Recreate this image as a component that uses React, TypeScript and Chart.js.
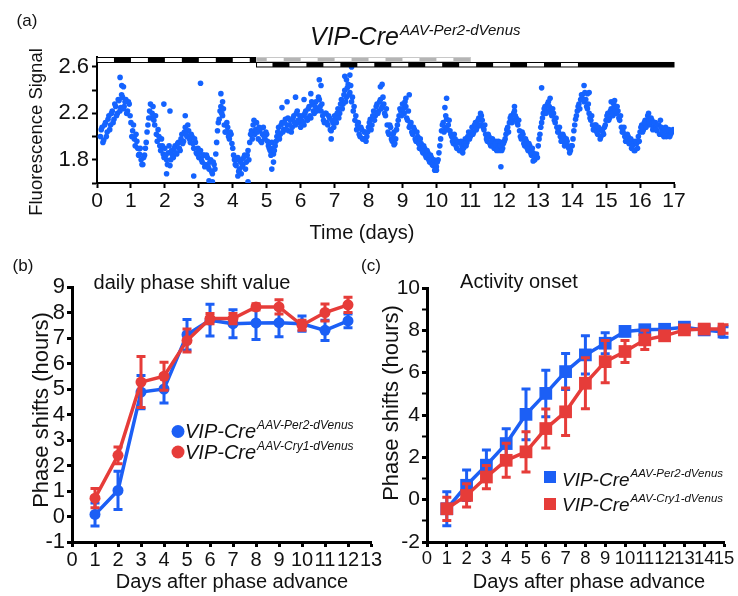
import React, { useEffect, useRef } from 'react';
import { Chart, registerables } from 'chart.js';
Chart.register(...registerables);

const FONT = 'Arial, "Liberation Sans", Helvetica, sans-serif';
const BLUE = '#1c5ff5';
const RED = '#e63c39';
const DOT_BLUE = '#1463ff';

// ---------- Panel (a) data ----------
const signalStep = 0.05; // days between samples of each reading series
const signalStartA = 0.1;
const signalValuesA = [
  // day 0 (from 0.10)
  2.00, 2.08, 1.97, 2.12, 2.04, 2.18, 2.10, 2.22, 2.15, 2.26, 2.20, 2.31, 2.25, 2.34, 2.26, 2.32, 2.22, 2.28,
  // day 1
  2.12, 2.05, 1.98, 2.02, 1.90, 1.85, 1.80, 1.76, 1.84, 1.95, 2.10, 2.22, 2.16, 2.26, 2.10, 2.02, 2.06, 1.92, 1.98, 1.85,
  // day 2
  1.90, 1.80, 1.86, 1.75, 1.88, 1.82, 1.92, 1.85, 1.95, 1.88, 2.02, 1.96, 2.08, 2.00, 2.05, 1.95, 2.00, 1.90, 1.95, 1.85,
  // day 3
  1.82, 1.88, 1.78, 1.84, 1.76, 1.82, 1.72, 1.80, 1.68, 1.76, 1.85, 2.05, 2.15, 2.26, 2.18, 2.10, 2.04, 2.08, 1.98, 2.02,
  // day 4
  1.90, 1.80, 1.75, 1.82, 1.72, 1.80, 1.76, 1.84, 1.78, 1.88, 1.95, 2.05, 2.10, 2.02, 2.12, 1.98, 2.05, 1.95, 2.08, 1.98,
  // day 5
  2.02, 1.92, 1.88, 1.95, 1.85, 1.92, 2.00, 2.08, 2.02, 2.12, 2.06, 2.15, 2.10, 2.05, 2.14, 2.08, 2.18, 2.10, 2.22, 2.12,
  // day 6
  2.08, 2.18, 2.10, 2.22, 2.14, 2.26, 2.16, 2.28, 2.20, 2.30, 2.24, 2.32, 2.22, 2.18, 2.12, 2.20, 2.10, 2.16, 2.05, 2.12,
  // day 7
  2.18, 2.12, 2.24, 2.20, 2.32, 2.28, 2.40, 2.34, 2.45, 2.38, 2.30, 2.22, 2.14, 2.06, 2.12, 2.00, 2.06, 1.98, 2.04, 2.00,
  // day 8
  2.08, 2.15, 2.10, 2.22, 2.18, 2.28, 2.22, 2.32, 2.26, 2.28, 2.18, 2.10, 2.02, 2.08, 1.96, 2.04, 1.98, 2.10, 2.18, 2.22,
  // day 9
  2.28, 2.20, 2.26, 2.14, 2.08, 2.12, 2.02, 2.06, 1.96, 2.00, 1.90, 1.94, 1.86, 1.90, 1.82, 1.86, 1.78, 1.82, 1.75, 1.78,
  // day 10
  1.74, 1.80, 1.92, 2.05, 2.12, 2.08, 2.15, 2.10, 2.05, 2.00, 1.94, 1.98, 1.90, 1.95, 1.88, 1.92, 1.90, 1.98, 1.95, 2.04,
  // day 11
  2.00, 2.08, 2.04, 2.12, 2.08, 2.16, 2.10, 2.14, 2.06, 2.02, 1.96, 2.00, 1.92, 1.98, 1.90, 1.96, 1.92, 1.88, 1.95, 1.90,
  // day 12
  1.96, 2.02, 2.08, 2.12, 2.18, 2.14, 2.22, 2.16, 2.10, 2.05, 1.98, 2.02, 1.92, 1.96, 1.88, 1.92, 1.84, 1.86, 1.80, 1.85,
  // day 13
  1.92, 2.02, 2.12, 2.20, 2.26, 2.22, 2.30, 2.24, 2.18, 2.20, 2.12, 2.08, 2.04, 2.00, 1.96, 2.00, 1.94, 1.96, 1.90, 1.88,
  // day 14
  1.92, 2.05, 2.15, 2.22, 2.28, 2.32, 2.36, 2.30, 2.32, 2.24, 2.20, 2.14, 2.10, 2.06, 2.10, 2.02, 2.06, 2.00, 2.04, 2.08,
  // day 15
  2.14, 2.20, 2.16, 2.24, 2.18, 2.26, 2.20, 2.22, 2.14, 2.08, 2.04, 2.00, 1.96, 2.00, 1.94, 1.90, 1.96, 1.88, 1.94, 2.00,
  // day 16
  2.04, 2.10, 2.06, 2.14, 2.10, 2.16, 2.10, 2.14, 2.08, 2.12, 2.05, 2.10, 2.02, 2.06, 2.00, 2.08, 2.02, 2.06, 2.02, 2.04,
];
const signalStartB = 0.125;
const signalValuesB = [
  // day 0 (from 0.125)
  2.06, 1.95, 2.10, 2.00, 2.15, 2.06, 2.20, 2.12, 2.28, 2.18, 2.32, 2.22, 2.36, 2.24, 2.30, 2.20, 2.30, 2.18,
  // day 1
  2.00, 2.10, 1.92, 1.96, 1.84, 1.90, 1.76, 1.82, 1.90, 2.04, 2.16, 2.28, 2.20, 2.14, 2.18, 1.96, 2.00, 1.88, 1.92, 1.82,
  // day 2
  1.84, 1.76, 1.92, 1.80, 1.84, 1.90, 1.86, 1.94, 1.90, 1.98, 1.94, 2.04, 2.02, 2.10, 1.98, 2.02, 1.94, 1.98, 1.86, 1.90,
  // day 3
  1.86, 1.80, 1.84, 1.74, 1.84, 1.74, 1.78, 1.70, 1.78, 1.72, 1.95, 2.12, 2.22, 2.20, 2.24, 2.04, 2.12, 2.00, 2.04, 1.94,
  // day 4
  1.84, 1.76, 1.80, 1.70, 1.78, 1.74, 1.82, 1.72, 1.84, 1.80, 2.02, 1.98, 2.14, 2.06, 2.04, 2.08, 1.96, 2.02, 2.00, 2.04,
  // day 5
  1.96, 1.90, 1.84, 1.90, 1.88, 1.96, 2.04, 1.98, 2.10, 2.04, 2.12, 2.06, 2.16, 2.10, 2.04, 2.16, 2.12, 2.20, 2.14, 2.18,
  // day 6
  2.14, 2.12, 2.20, 2.16, 2.24, 2.18, 2.30, 2.22, 2.26, 2.22, 2.34, 2.26, 2.28, 2.14, 2.20, 2.12, 2.18, 2.06, 2.14, 2.08,
  // day 7
  2.14, 2.20, 2.16, 2.28, 2.24, 2.36, 2.30, 2.42, 2.36, 2.44, 2.34, 2.26, 2.18, 2.10, 2.02, 2.08, 1.98, 2.04, 1.96, 2.04,
  // day 8
  2.12, 2.06, 2.18, 2.14, 2.26, 2.20, 2.30, 2.24, 2.34, 2.20, 2.24, 2.04, 2.10, 1.98, 2.02, 1.94, 2.06, 2.14, 2.24, 2.18,
  // day 9
  2.24, 2.30, 2.16, 2.22, 2.10, 2.04, 2.08, 1.98, 2.04, 1.94, 1.98, 1.88, 1.92, 1.84, 1.88, 1.80, 1.84, 1.76, 1.80, 1.72,
  // day 10
  1.78, 1.86, 1.98, 2.10, 2.04, 2.18, 2.06, 2.14, 2.02, 1.96, 2.02, 1.92, 1.96, 1.88, 1.96, 1.86, 1.94, 1.92, 2.00, 1.98,
  // day 11
  2.04, 2.02, 2.10, 2.06, 2.14, 2.10, 2.18, 2.08, 2.10, 1.98, 2.02, 1.94, 1.96, 1.92, 1.94, 1.88, 1.96, 1.92, 1.88, 1.94,
  // day 12
  1.98, 2.06, 2.04, 2.16, 2.12, 2.20, 2.18, 2.12, 2.14, 2.00, 2.04, 1.94, 1.98, 1.90, 1.94, 1.86, 1.90, 1.80, 1.84, 1.82,
  // day 13
  1.98, 2.08, 2.16, 2.24, 2.20, 2.28, 2.26, 2.20, 2.24, 2.14, 2.16, 2.04, 2.08, 1.96, 2.02, 1.92, 1.98, 1.92, 1.86, 1.92,
  // day 14
  1.98, 2.10, 2.18, 2.26, 2.24, 2.36, 2.32, 2.38, 2.26, 2.28, 2.16, 2.18, 2.06, 2.10, 2.04, 2.08, 1.98, 2.06, 2.02, 2.10,
  // day 15
  2.18, 2.14, 2.22, 2.20, 2.28, 2.22, 2.26, 2.16, 2.18, 2.04, 2.08, 1.96, 2.02, 1.94, 1.98, 1.92, 1.88, 1.96, 1.90, 1.96,
  // day 16
  2.08, 2.04, 2.12, 2.08, 2.18, 2.12, 2.16, 2.06, 2.12, 2.06, 2.10, 2.02, 2.08, 2.04, 2.06, 2.00, 2.06, 2.00, 2.04, 2.06,
];
const signalOutliers: [number, number][] = [
  [0.68, 2.51], [0.73, 2.44], [0.78, 2.43], [1.97, 2.28], [2.05, 1.68], [2.15, 2.22], [2.6, 2.18], [2.85, 1.66],
  [3.05, 2.46], [3.3, 1.62], [3.4, 1.61], [3.65, 2.37], [3.7, 2.3], [4.15, 1.66], [4.25, 1.68], [4.45, 1.61],
  [5.15, 1.72], [5.2, 1.78], [5.45, 2.25], [5.6, 2.3], [5.85, 2.34], [6.1, 2.32], [6.3, 2.37], [6.55, 2.49],
  [6.6, 2.44], [6.9, 1.98], [7.3, 2.52], [7.35, 2.49], [7.45, 2.53], [7.5, 2.6], [8.35, 2.43], [8.4, 2.45],
  [8.75, 1.93], [9.1, 2.33], [9.2, 2.36], [9.95, 1.71], [10.0, 1.71], [10.25, 2.25], [10.3, 2.33], [11.3, 2.2],
  [11.9, 1.74], [12.3, 2.26], [12.85, 1.79], [13.1, 2.42], [13.35, 2.33], [14.35, 2.44], [14.45, 2.37],
  [14.5, 2.38], [15.15, 2.3], [15.25, 2.31], [16.25, 2.2], [16.6, 2.14],
];
const aTickLabels = [1.8, 2.2, 2.6];
// light/dark schedule (days)
const shiftDay = 4.7;
const oldDark: [number, number][] = [[0.5, 1], [1.5, 2], [2.5, 3], [3.5, 4], [4.5, 4.7]];
const oldDarkGhost: [number, number][] = [[4.7, 5], [5.5, 6], [6.5, 7], [7.5, 8], [8.5, 9], [9.5, 10], [10.5, 11]];
const ghostEnd = 11;
const newDark: [number, number][] = [
  [5.17, 5.67], [6.17, 6.67], [7.17, 7.67], [8.17, 8.67], [9.17, 9.67], [10.17, 10.67],
  [11.17, 11.67], [12.17, 12.67], [13.17, 13.67], [14.17, 17],
];
const ldRows = [2.686, 2.643, 2.6]; // row boundaries in signal units

// ---------- Panel (b) data ----------
const daysB = [1, 2, 3, 4, 5, 6, 7, 8, 9, 10, 11, 12];
const per2B = [0.08, 1.02, 4.88, 5.0, 7.13, 7.7, 7.56, 7.59, 7.6, 7.56, 7.3, 7.67];
const per2BErr = [0.45, 0.75, 0.65, 0.55, 0.6, 0.62, 0.55, 0.65, 0.55, 0.3, 0.4, 0.27];
const cry1B = [0.72, 2.4, 5.27, 5.5, 6.9, 7.76, 7.76, 8.22, 8.22, 7.5, 8.0, 8.3];
const cry1BErr = [0.38, 0.33, 1.0, 0.55, 0.45, 0.2, 0.2, 0.12, 0.28, 0.2, 0.33, 0.3];

// ---------- Panel (c) data ----------
const daysC = [1, 2, 3, 4, 5, 6, 7, 8, 9, 10, 11, 12, 13, 14, 15];
const per2C = [-0.43, 0.68, 1.63, 2.65, 4.03, 5.02, 6.05, 6.84, 7.39, 7.95, 8.03, 8.05, 8.15, 8.02, 7.92];
const per2CErr = [0.8, 0.72, 0.72, 0.7, 1.2, 1.1, 0.85, 0.9, 0.5, 0.2, 0.15, 0.15, 0.15, 0.2, 0.25];
const cry1C = [-0.43, 0.2, 1.07, 1.86, 2.26, 3.36, 4.15, 5.5, 6.52, 7.0, 7.55, 7.74, 8.02, 8.06, 8.06];
const cry1CErr = [0.55, 0.55, 0.55, 0.8, 0.95, 0.92, 1.12, 1.2, 1.0, 0.52, 0.45, 0.2, 0.15, 0.15, 0.2];

const superPer2 = 'AAV-Per2-dVenus';
const superCry1 = 'AAV-Cry1-dVenus';

// ---------- helpers ----------
type TextItem = {
  text: string; x: number; y: number; size: number; italic?: boolean;
  align?: 'left' | 'center' | 'right'; rotate?: number; baseline?: CanvasTextBaseline;
  sup?: string; supSize?: number; supRise?: number;
};
type Marker = { shape: 'circle' | 'rect'; x: number; y: number; r: number; color: string };

function drawText(ctx: CanvasRenderingContext2D, t: TextItem) {
  ctx.save();
  ctx.fillStyle = '#111';
  ctx.translate(t.x, t.y);
  if (t.rotate) ctx.rotate(t.rotate);
  const mainFont = `${t.italic ? 'italic ' : ''}${t.size}px ${FONT}`;
  ctx.font = mainFont;
  const w = ctx.measureText(t.text).width;
  let supW = 0;
  const supFont = `italic ${t.supSize || 12}px ${FONT}`;
  if (t.sup) {
    ctx.font = supFont;
    supW = ctx.measureText(t.sup).width + 1;
  }
  const total = w + supW;
  const x0 = t.align === 'center' ? -total / 2 : t.align === 'right' ? -total : 0;
  ctx.textAlign = 'left';
  ctx.textBaseline = t.baseline || 'alphabetic';
  ctx.font = mainFont;
  ctx.fillText(t.text, x0, 0);
  if (t.sup) {
    ctx.font = supFont;
    ctx.fillText(t.sup, x0 + w + 1, -(t.supRise || 9));
  }
  ctx.restore();
}

function textPlugin(id: string, items: TextItem[], markers: Marker[] = []) {
  return {
    id,
    afterDraw(chart: any) {
      const ctx = chart.ctx as CanvasRenderingContext2D;
      markers.forEach((m) => {
        ctx.save();
        ctx.fillStyle = m.color;
        ctx.beginPath();
        if (m.shape === 'circle') ctx.arc(m.x, m.y, m.r, 0, Math.PI * 2);
        else ctx.rect(m.x - m.r, m.y - m.r, m.r * 2, m.r * 2);
        ctx.fill();
        ctx.restore();
      });
      items.forEach((t) => drawText(ctx, t));
    },
  };
}

const errorBarPlugin = {
  id: 'errorBars',
  beforeDatasetDraw(chart: any, args: any) {
    const ds: any = chart.data.datasets[args.index];
    if (!ds.errors) return;
    const meta = chart.getDatasetMeta(args.index);
    const ys = chart.scales.y;
    const ctx = chart.ctx as CanvasRenderingContext2D;
    const cap = ds.capHalf || 4.5;
    ctx.save();
    ctx.strokeStyle = ds.borderColor;
    ctx.lineWidth = 3;
    ctx.lineCap = 'butt';
    meta.data.forEach((el: any, i: number) => {
      const v = ds.data[i].y;
      const e = ds.errors[i];
      const top = ys.getPixelForValue(v + e);
      const bot = ys.getPixelForValue(v - e);
      ctx.beginPath();
      ctx.moveTo(el.x, top);
      ctx.lineTo(el.x, bot);
      ctx.moveTo(el.x - cap, top);
      ctx.lineTo(el.x + cap, top);
      ctx.moveTo(el.x - cap, bot);
      ctx.lineTo(el.x + cap, bot);
      ctx.stroke();
    });
    ctx.restore();
  },
};

const ldPlugin = {
  id: 'ldBars',
  afterDraw(chart: any) {
    const ctx = chart.ctx as CanvasRenderingContext2D;
    const xs = chart.scales.x;
    const ys = chart.scales.y;
    const r0 = ys.getPixelForValue(ldRows[0]);
    const r1 = ys.getPixelForValue(ldRows[1]);
    const r2 = ys.getPixelForValue(ldRows[2]);
    const px = (d: number) => xs.getPixelForValue(d);
    ctx.save();
    ctx.fillStyle = '#fff';
    ctx.fillRect(px(0), r0, px(shiftDay) - px(0), r1 - r0);
    ctx.fillStyle = '#000';
    oldDark.forEach(([a, b]) => ctx.fillRect(px(a), r0, px(b) - px(a), r1 - r0));
    ctx.strokeStyle = '#000';
    ctx.lineWidth = 1;
    ctx.strokeRect(px(0), r0 + 0.5, px(shiftDay) - px(0), r1 - r0);
    ctx.fillStyle = '#b4b4b4';
    oldDarkGhost.forEach(([a, b]) => ctx.fillRect(px(a), r0, px(b) - px(a), r1 - r0 - 0.5));
    ctx.strokeStyle = '#c8c8c8';
    ctx.strokeRect(px(shiftDay), r0 + 0.5, px(ghostEnd) - px(shiftDay), r1 - r0 - 1);
    ctx.fillStyle = '#fff';
    ctx.fillRect(px(shiftDay), r1, px(17) - px(shiftDay), r2 - r1);
    ctx.fillStyle = '#000';
    newDark.forEach(([a, b]) => ctx.fillRect(px(a), r1, px(b) - px(a), r2 - r1));
    ctx.strokeStyle = '#000';
    ctx.strokeRect(px(shiftDay), r1 + 0.5, px(17) - px(shiftDay), r2 - r1 - 0.5);
    ctx.restore();
  },
};

function axisStyle(borderWidth: number, tickLength: number, tickWidth: any) {
  return {
    grid: {
      display: true,
      drawOnChartArea: false,
      drawTicks: true,
      tickLength,
      tickColor: '#000',
      tickWidth,
    },
    border: { display: true, color: '#000', width: borderWidth },
  };
}

// ---------- configs ----------
function configA(): any {
  const pts: { x: number; y: number }[] = [];
  signalValuesA.forEach((v, i) => pts.push({ x: +(signalStartA + i * signalStep).toFixed(3), y: v }));
  signalValuesB.forEach((v, i) => pts.push({ x: +(signalStartB + i * signalStep).toFixed(3), y: v }));
  signalOutliers.forEach(([x, y]) => pts.push({ x, y }));
  return {
    type: 'scatter',
    data: {
      datasets: [
        { data: pts, pointRadius: 2.8, pointBackgroundColor: DOT_BLUE, pointBorderWidth: 0, showLine: false },
      ],
    },
    options: {
      responsive: false,
      animation: false,
      events: [],
      layout: { padding: { left: 37, right: 64, top: 57, bottom: 373 }, autoPadding: false },
      plugins: { legend: { display: false }, tooltip: { enabled: false } },
      scales: {
        x: {
          type: 'linear', min: 0, max: 17,
          afterFit: (s: any) => { s.height = 40; },
          ticks: { stepSize: 1, autoSkip: false, maxRotation: 0, color: '#111', padding: 1, font: { family: FONT, size: 21 } },
          ...axisStyle(2, 5, 2),
        },
        y: {
          type: 'linear', min: 1.6, max: ldRows[0],
          afterFit: (s: any) => { s.width = 60; },
          ticks: {
            stepSize: 0.2, includeBounds: false, autoSkip: false, color: '#111', padding: 3,
            font: { family: FONT, size: 22 },
            callback: (v: number) => (aTickLabels.some((t) => Math.abs(t - v) < 1e-6) ? v.toFixed(1) : ''),
          },
          ...axisStyle(2, 5, 2),
        },
      },
    },
    plugins: [
      ldPlugin,
      textPlugin('textA', [
        { text: '(a)', x: 27, y: 21, size: 17, align: 'center', baseline: 'middle' },
        { text: 'VIP-Cre', x: 310, y: 45, size: 25, italic: true, sup: superPer2, supSize: 15, supRise: 10 },
        { text: 'Fluorescence Signal', x: 37, y: 132, size: 18.5, align: 'center', baseline: 'middle', rotate: -Math.PI / 2 },
        { text: 'Time (days)', x: 362, y: 239, size: 20, align: 'center' },
      ]),
    ],
  };
}

function lineDataset(days: number[], vals: number[], errs: number[], color: string, order: number, style: string, radius: number) {
  return {
    data: days.map((d, i) => ({ x: d, y: vals[i] })),
    errors: errs,
    borderColor: color,
    backgroundColor: color,
    pointBackgroundColor: color,
    pointBorderWidth: 0,
    pointStyle: style,
    pointRadius: radius,
    borderWidth: 3.5,
    tension: 0,
    order,
  };
}

function configB(): any {
  return {
    type: 'line',
    data: {
      datasets: [
        lineDataset(daysB, per2B, per2BErr, BLUE, 2, 'circle', 5.5),
        lineDataset(daysB, cry1B, cry1BErr, RED, 1, 'circle', 5.5),
      ],
    },
    options: {
      responsive: false,
      animation: false,
      events: [],
      layout: { padding: { left: 22, right: 367, top: 287, bottom: 14 }, autoPadding: false },
      plugins: { legend: { display: false }, tooltip: { enabled: false } },
      scales: {
        x: {
          type: 'linear', min: 0, max: 13,
          afterFit: (s: any) => { s.height = 40; },
          ticks: { stepSize: 1, autoSkip: false, maxRotation: 0, color: '#111', padding: 1, font: { family: FONT, size: 20 } },
          ...axisStyle(3, 5, 3),
        },
        y: {
          type: 'linear', min: -1, max: 9,
          afterFit: (s: any) => { s.width = 50; },
          ticks: { stepSize: 1, autoSkip: false, color: '#111', padding: 2, font: { family: FONT, size: 22 } },
          ...axisStyle(3, 5, 3),
        },
      },
    },
    plugins: [
      errorBarPlugin,
      textPlugin(
        'textB',
        [
          { text: '(b)', x: 23, y: 266, size: 17, align: 'center', baseline: 'middle' },
          { text: 'daily phase shift value', x: 192, y: 289, size: 20, align: 'center' },
          { text: 'Phase shifts (hours)', x: 42, y: 410, size: 22, align: 'center', baseline: 'middle', rotate: -Math.PI / 2 },
          { text: 'Days after phase advance', x: 232, y: 588, size: 20, align: 'center' },
          { text: 'VIP-Cre', x: 185, y: 438, size: 20, italic: true, sup: superPer2, supSize: 12, supRise: 9 },
          { text: 'VIP-Cre', x: 185, y: 459, size: 20, italic: true, sup: superCry1, supSize: 12, supRise: 9 },
        ],
        [
          { shape: 'circle', x: 178, y: 431.5, r: 6.5, color: BLUE },
          { shape: 'circle', x: 178, y: 452, r: 6.5, color: RED },
        ]
      ),
    ],
  };
}

function configC(): any {
  return {
    type: 'line',
    data: {
      datasets: [
        lineDataset(daysC, per2C, per2CErr, BLUE, 2, 'rect', 9),
        lineDataset(daysC, cry1C, cry1CErr, RED, 1, 'rect', 9),
      ],
    },
    options: {
      responsive: false,
      animation: false,
      events: [],
      layout: { padding: { left: 377, right: 14, top: 288, bottom: 14 }, autoPadding: false },
      plugins: { legend: { display: false }, tooltip: { enabled: false } },
      scales: {
        x: {
          type: 'linear', min: 0, max: 15,
          afterFit: (s: any) => { s.height = 40; },
          ticks: { stepSize: 1, autoSkip: false, maxRotation: 0, color: '#111', padding: 1, font: { family: FONT, size: 18.5 } },
          ...axisStyle(3, 5, 3),
        },
        y: {
          type: 'linear', min: -2, max: 10,
          afterFit: (s: any) => { s.width = 50; },
          ticks: {
            stepSize: 1, autoSkip: false, color: '#111', padding: 2, font: { family: FONT, size: 21 },
            callback: (v: number) => (Math.round(v) % 2 === 0 ? String(v) : ''),
          },
          ...axisStyle(3, 5, (c: any) => (c.tick && Math.round(c.tick.value) % 2 !== 0 ? 2 : 3)),
        },
      },
    },
    plugins: [
      errorBarPlugin,
      textPlugin(
        'textC',
        [
          { text: '(c)', x: 371, y: 266, size: 17, align: 'center', baseline: 'middle' },
          { text: 'Activity onset', x: 519, y: 288, size: 20, align: 'center' },
          { text: 'Phase shifts (hours)', x: 392, y: 403, size: 22, align: 'center', baseline: 'middle', rotate: -Math.PI / 2 },
          { text: 'Days after phase advance', x: 589, y: 588, size: 20, align: 'center' },
          { text: 'VIP-Cre', x: 562, y: 486, size: 19, italic: true, sup: superPer2, supSize: 11.5, supRise: 9 },
          { text: 'VIP-Cre', x: 562, y: 511, size: 19, italic: true, sup: superCry1, supSize: 11.5, supRise: 9 },
        ],
        [
          { shape: 'rect', x: 550, y: 477, r: 6, color: BLUE },
          { shape: 'rect', x: 550, y: 504, r: 6, color: RED },
        ]
      ),
    ],
  };
}

function ChartCanvas({ make }: { make: () => any }) {
  const ref = useRef<HTMLCanvasElement>(null);
  useEffect(() => {
    const chart = new Chart(ref.current as HTMLCanvasElement, make());
    return () => chart.destroy();
  }, [make]);
  return (
    <canvas
      ref={ref}
      width={738}
      height={596}
      style={{ position: 'absolute', left: 0, top: 0, width: 738, height: 596 }}
    />
  );
}

export default function App() {
  return (
    <div style={{ position: 'absolute', left: 0, top: 0, width: 738, height: 596, background: '#fff', overflow: 'hidden' }}>
      <ChartCanvas make={configA} />
      <ChartCanvas make={configB} />
      <ChartCanvas make={configC} />
    </div>
  );
}
